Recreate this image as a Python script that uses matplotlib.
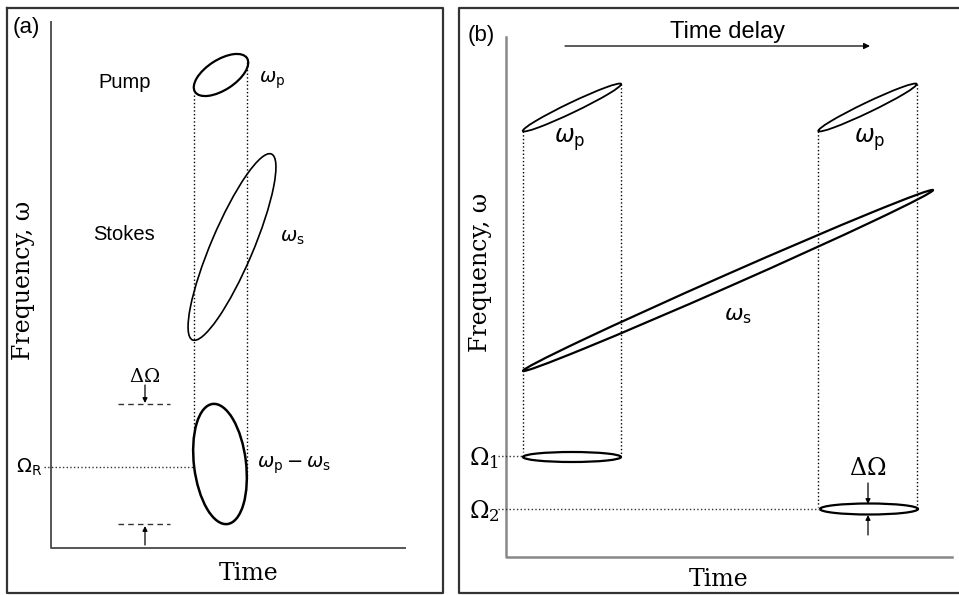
import matplotlib.pyplot as plt
from matplotlib.patches import Ellipse

plt.rcParams['font.family'] = ['Liberation Sans', 'DejaVu Sans']
plt.rcParams['mathtext.fontset'] = 'dejavusans'

# drawing units = pixels of the 959x595 picture, y pointing down
# pulses: pump(a), stokes(a), raman(a), pump1(b), pump2(b), stokes(b), raman1(b), raman2(b)
ell_x = [221, 232, 220, 572, 867.5, 728, 572, 869]
ell_y = [75, 247, 464, 107.5, 107.5, 280.5, 457, 509]
ell_len = [62, 202, 121, 109, 109, 448, 98, 98]
ell_wid = [30, 42, 52, 10, 10, 12, 10, 11]
ell_tilt = [33, 67, 97, 25.6, 25.6, 23.8, 0, 0]
ell_lw = [1.6, 1.2, 1.8, 1.3, 1.3, 1.6, 1.6, 1.6]

# dotted projection lines
dot_v_x = [194, 247, 523, 621, 818, 917]
dot_v_top = [95, 62, 131, 84, 131, 84]
dot_v_bot = [430, 478, 452, 455, 507, 507]
dot_h_y = [467, 456, 509]
dot_h_x0 = [44, 498, 498]
dot_h_x1 = [194, 523, 820]

# dashed bandwidth markers in (a)
dash_y = [404, 524]
dash_x0, dash_x1 = 118, 170

# small vertical arrows: x, from y, to y
arr_x = [145, 145, 868, 868]
arr_y0 = [385, 545, 483, 535]
arr_y1 = [403, 526, 504, 515]

fig = plt.figure(figsize=(9.59, 5.95), dpi=100)
ax = fig.add_axes([0, 0, 1, 1])
ax.set_xlim(0, 959)
ax.set_ylim(595, 0)
ax.axis('off')

# panel frames
ax.plot([7, 443, 443, 7, 7], [8, 8, 593, 593, 8], color='#333333', lw=1.6)
ax.plot([962, 459, 459, 962], [8, 8, 593, 593], color='#333333', lw=1.6)

# axes lines
ax.plot([51, 51, 405], [22, 548, 548], color='#555555', lw=1.4)
ax.plot([506, 506, 952], [37, 557, 557], color='#888888', lw=1.8)

for x, y, l, w, t, lw in zip(ell_x, ell_y, ell_len, ell_wid, ell_tilt, ell_lw):
    ax.add_patch(Ellipse((x, y), l, w, angle=-t, fill=False, ec='black', lw=lw))

for x, y0, y1 in zip(dot_v_x, dot_v_top, dot_v_bot):
    ax.plot([x, x], [y0, y1], color='black', ls=':', lw=1)
for y, x0, x1 in zip(dot_h_y, dot_h_x0, dot_h_x1):
    ax.plot([x0, x1], [y, y], color='#333333', ls=':', lw=1)
for y in dash_y:
    ax.plot([dash_x0, dash_x1], [y, y], color='#333333', ls=(0, (4, 3)), lw=1)

for x, y0, y1 in zip(arr_x, arr_y0, arr_y1):
    ax.annotate('', xy=(x, y1), xytext=(x, y0),
                arrowprops=dict(arrowstyle='-|>', color='black', lw=0.9,
                                mutation_scale=7, shrinkA=0, shrinkB=0))
ax.annotate('', xy=(870, 46), xytext=(565, 46),
            arrowprops=dict(arrowstyle='-|>', color='black', lw=0.9,
                            mutation_scale=9, shrinkA=0, shrinkB=0))

# text
ax.text(13, 27, '(a)', fontsize=16, va='center', ha='left')
ax.text(468, 35, '(b)', fontsize=16, va='center', ha='left')
ax.text(125, 83, 'Pump', fontsize=14.5, ha='center', va='center')
ax.text(124, 235, 'Stokes', fontsize=14.5, ha='center', va='center')
ax.text(727, 32, 'Time delay', fontsize=17, ha='center', va='center')

ax.text(259, 80, r'$\omega_\mathrm{p}$', fontsize=14, ha='left', va='center')
ax.text(280, 238, r'$\omega_\mathrm{s}$', fontsize=14, ha='left', va='center')
ax.text(257, 465, r'$\omega_\mathrm{p}-\omega_\mathrm{s}$', fontsize=14, ha='left', va='center')
ax.text(16, 467, r'$\Omega_\mathrm{R}$', fontsize=14, ha='left', va='center')
ax.text(145, 377, r'$\Delta\Omega$', fontsize=14, ha='center', va='center',
        math_fontfamily='dejavuserif')

ax.text(570, 140, r'$\omega_\mathrm{p}$', fontsize=17, ha='center', va='center')
ax.text(870, 140, r'$\omega_\mathrm{p}$', fontsize=17, ha='center', va='center')
ax.text(738, 315, r'$\omega_\mathrm{s}$', fontsize=16, ha='center', va='center')
ax.text(868, 469, r'$\Delta\Omega$', fontsize=17, ha='center', va='center',
        math_fontfamily='dejavuserif')
ax.text(469, 458, r'$\Omega_1$', fontsize=17, ha='left', va='center',
        math_fontfamily='dejavuserif')
ax.text(469, 511, r'$\Omega_2$', fontsize=17, ha='left', va='center',
        math_fontfamily='dejavuserif')

ax.text(24, 280, 'Frequency, ω', fontsize=17, family='DejaVu Serif',
        rotation=90, ha='center', va='center')
ax.text(480, 272, 'Frequency, ω', fontsize=17, family='DejaVu Serif',
        rotation=90, ha='center', va='center')
ax.text(249, 574, 'Time', fontsize=17, family='DejaVu Serif', ha='center', va='center')
ax.text(719, 580, 'Time', fontsize=17, family='DejaVu Serif', ha='center', va='center')

fig.savefig('out.png', dpi=100)
